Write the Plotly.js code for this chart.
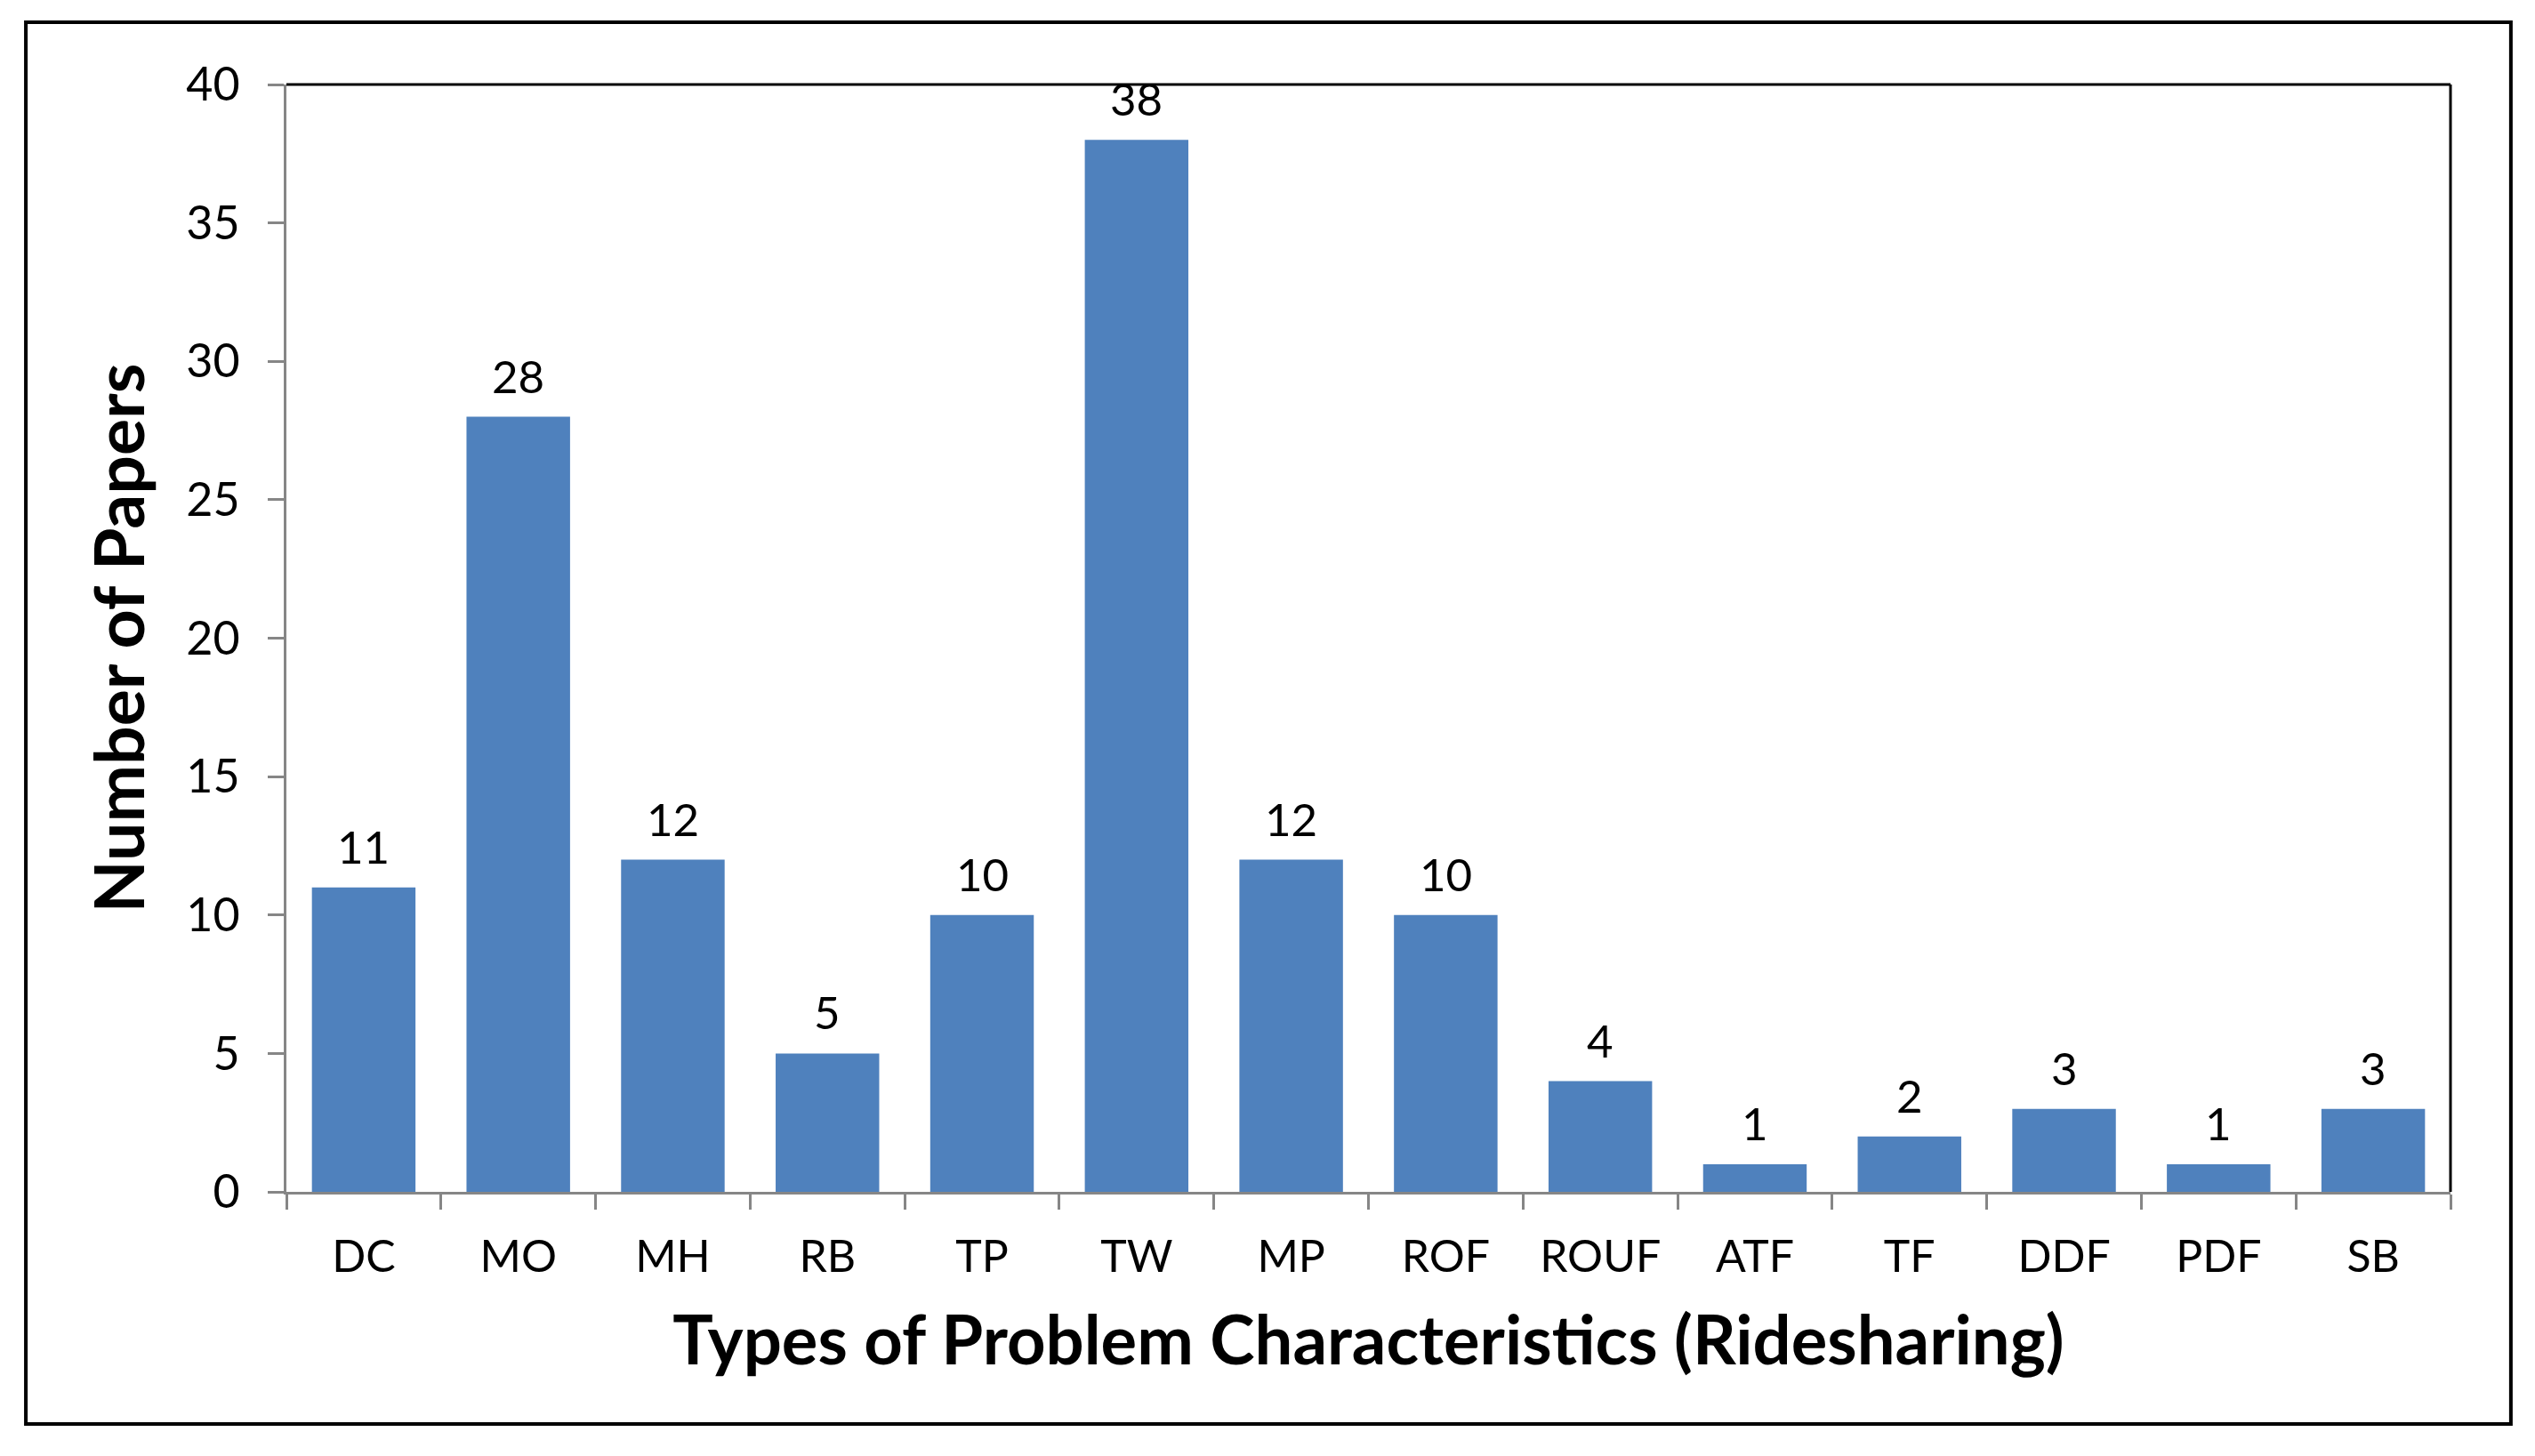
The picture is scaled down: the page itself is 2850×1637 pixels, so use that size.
<!DOCTYPE html>
<html>
<head>
<meta charset="utf-8">
<script src="https://cdn.plot.ly/plotly-3.0.1.min.js"></script>
<style>html,body{margin:0;padding:0;background:#fff;}#chart{width:2850px;height:1637px;}</style>
</head>
<body>
<div id="chart"></div>
<script>
const categories = ["DC","MO","MH","RB","TP","TW","MP","ROF","ROUF","ATF","TF","DDF","PDF","SB"];
const paperCounts = [11,28,12,5,10,38,12,10,4,1,2,3,1,3];
const yTickValues = [0,5,10,15,20,25,30,35,40];

const FONT = "Lato, 'Open Sans', sans-serif";
const GRAY = "#868686";

const trace = {
  type: "bar",
  x: categories,
  y: paperCounts,
  marker: {color: "#4F81BD"},
  hoverinfo: "x+y"
};

const annotations = categories.map((c, i) => ({
  x: c, y: paperCounts[i], xref: "x", yref: "y",
  text: String(paperCounts[i]), showarrow: false,
  yanchor: "bottom", yshift: 14,
  font: {family: FONT, size: 51, color: "#000"}
}));

const layout = {
  width: 2850, height: 1637,
  paper_bgcolor: "#fff", plot_bgcolor: "#fff",
  margin: {l: 322, r: 95, t: 95, b: 297},
  bargap: 0.33,
  showlegend: false,
  font: {family: FONT, color: "#000"},
  xaxis: {
    type: "category",
    showline: true, linecolor: GRAY, linewidth: 3,
    ticks: "outside", tickson: "boundaries", ticklen: 17, tickwidth: 3, tickcolor: GRAY,
    tickfont: {family: FONT, size: 50, color: "#000"},
    ticklabelstandoff: 27,
    showgrid: false, zeroline: false,
    title: {text: "Types of Problem Characteristics (Ridesharing)", standoff: 41,
            font: {family: FONT, size: 76, color: "#000", weight: "bold"}}
  },
  yaxis: {
    range: [0, 40], tickvals: yTickValues,
    showline: true, linecolor: GRAY, linewidth: 3,
    ticks: "outside", ticklen: 18, tickwidth: 3, tickcolor: GRAY,
    tickfont: {family: FONT, size: 52, color: "#000"},
    ticklabelstandoff: 21,
    showgrid: false, zeroline: false,
    title: {text: "Number of Papers", standoff: 22,
            font: {family: FONT, size: 77, color: "#000", weight: "bold"}}
  },
  annotations: annotations,
  shapes: [
    {type: "line", xref: "paper", yref: "paper", x0: 0, x1: 1, y0: 1, y1: 1, line: {color: "#000", width: 3}},
    {type: "line", xref: "paper", yref: "paper", x0: 1, x1: 1, y0: 0, y1: 1, line: {color: "#000", width: 3}},
    {type: "rect", xref: "paper", yref: "paper", x0: -0.1204, x1: 1.0279, y0: -0.2096, y1: 1.0562, line: {color: "#000", width: 4}}
  ]
};

Plotly.newPlot("chart", [trace], layout, {displayModeBar: false, staticPlot: true});
</script>
</body>
</html>
